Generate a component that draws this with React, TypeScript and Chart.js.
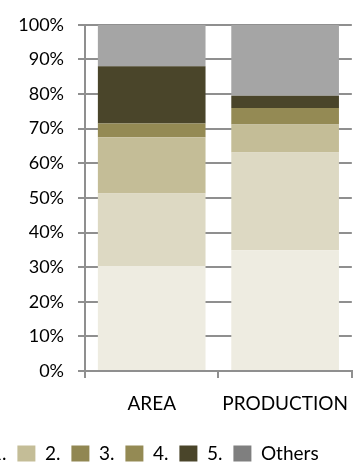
import React, { useEffect, useRef } from "react";
import { Chart, registerables } from "chart.js";

Chart.register(...registerables);

const categories = ["AREA", "PRODUCTION"];
const seriesNames = ["1.", "2.", "3.", "4.", "5.", "Others"];
const series1 = [30.3, 34.9];
const series2 = [21.0, 28.2];
const series3 = [16.2, 8.1];
const series4 = [4.0, 4.8];
const series5 = [16.5, 3.5];
const others = [12.0, 20.5];
const barColors = ["#EEECE1", "#DDD9C3", "#C4BD97", "#948A54", "#4A452A", "#A5A5A5"];
const legendColors = ["#DDD9C3", "#C4BD97", "#918752", "#948A54", "#4A452A", "#7F7F7F"];

const FONT = "Lato";
const GRID = "#8F8F8F";
const LEFT = -80;
const WIDTH = 442;

export default function App() {
  const ref = useRef<HTMLCanvasElement | null>(null);

  useEffect(() => {
    document.documentElement.style.overflow = "hidden";
    document.body.style.overflow = "hidden";
    if (!ref.current) return;
    const values = [series1, series2, series3, series4, series5, others];
    const chart = new Chart(ref.current, {
      type: "bar",
      data: {
        labels: categories,
        datasets: values.map((v, i) => ({
          label: seriesNames[i],
          data: v,
          backgroundColor: barColors[i],
          borderWidth: 0,
          barPercentage: 0.807,
          categoryPercentage: 1,
        })),
      },
      options: {
        responsive: false,
        animation: false,
        layout: { padding: { left: 0, right: 0, top: 24, bottom: -11 } },
        plugins: {
          tooltip: { enabled: false },
          legend: {
            position: "bottom",
            labels: {
              font: { family: FONT, size: 19 },
              color: "#000000",
              boxWidth: 18,
              boxHeight: 16,
              padding: 11,
              generateLabels: (c: any) => {
                const items = (Chart.defaults.plugins.legend.labels as any).generateLabels(c);
                return items.map((it: any, i: number) => ({
                  ...it,
                  fillStyle: legendColors[i],
                  strokeStyle: legendColors[i],
                  lineWidth: 0,
                }));
              },
            },
          },
        },
        scales: {
          x: {
            stacked: true,
            afterFit: (s: any) => {
              s.height = 62;
            },
            grid: {
              display: true,
              drawOnChartArea: false,
              drawTicks: true,
              tickLength: 7,
              offset: true,
              color: GRID,
              lineWidth: 2,
            },
            border: { display: true, color: GRID, width: 2 },
            ticks: {
              font: { family: FONT, size: 19 },
              color: "#000000",
              padding: 14,
            },
          },
          y: {
            stacked: true,
            min: 0,
            max: 100,
            afterFit: (s: any) => {
              s.width = 85 - LEFT;
            },
            grid: {
              color: GRID,
              lineWidth: 2,
              drawTicks: true,
              tickLength: 7,
            },
            border: { display: true, color: GRID, width: 2 },
            ticks: {
              stepSize: 10,
              font: { family: FONT, size: 18 },
              color: "#000000",
              padding: 14,
              callback: (v: any) => v + "%",
            },
          },
        },
      },
    });
    return () => chart.destroy();
  }, []);

  return (
    <div style={{ position: "absolute", left: LEFT, top: 0, width: WIDTH, height: 462 }}>
      <canvas ref={ref} width={WIDTH} height={462} style={{ display: "block" }} />
    </div>
  );
}
